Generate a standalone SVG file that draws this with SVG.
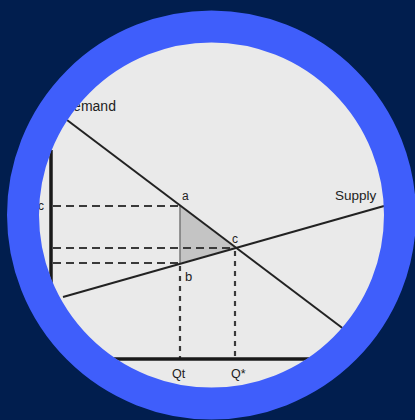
<svg xmlns="http://www.w3.org/2000/svg" width="415" height="420" viewBox="0 0 415 420">
<style>
.lbl{font-family:"Liberation Sans",Arial,sans-serif;fill:#222}
.ln{stroke:#222;stroke-width:2;fill:none}
.axis{stroke:#1a1a1a;stroke-width:3.5;fill:none}
.dh{stroke:#3a3a3a;stroke-width:2.2;stroke-dasharray:8 5;fill:none}
.dv{stroke:#3a3a3a;stroke-width:2.2;stroke-dasharray:5 5;fill:none}
</style>
<defs>
<clipPath id="inner"><circle cx="211.5" cy="215" r="173"/></clipPath>
</defs>
<rect width="415" height="420" fill="#011E4E"/>
<circle cx="211.5" cy="215" r="180" fill="#EAEAEA"/>
<g clip-path="url(#inner)">
<g id="area">
<polygon points="180,206 235,248 180,263" fill="#C4C4C4"/>
<line x1="180" y1="206" x2="180" y2="263" stroke="#777" stroke-width="1.5"/>
</g>
<g id="connectors">
<line class="dh" x1="53" y1="206" x2="180" y2="206"/>
<line class="dh" x1="53" y1="248" x2="235" y2="248"/>
<line class="dh" x1="53" y1="263" x2="180" y2="263"/>
<line class="dv" x1="180" y1="266" x2="180" y2="358"/>
<line class="dv" x1="235" y1="251" x2="235" y2="358"/>
<line class="ln" x1="67" y1="120" x2="345" y2="330"/>
<line class="ln" x1="63" y1="297" x2="384" y2="206"/>
</g>
<g id="axes">
<line class="axis" x1="51" y1="150" x2="51" y2="380"/>
<line class="axis" x1="49" y1="359" x2="390" y2="359"/>
</g>
<g id="labels">
<text class="lbl" x="63" y="111" font-size="14">Demand</text>
<text class="lbl" x="335" y="200" font-size="13.5">Supply</text>
<text class="lbl" x="182" y="200" font-size="12">a</text>
<text class="lbl" x="232" y="243" font-size="12">c</text>
<text class="lbl" x="185" y="281" font-size="13">b</text>
<text class="lbl" x="172" y="378" font-size="12.5">Qt</text>
<text class="lbl" x="231" y="378" font-size="12.5">Q*</text>
<text class="lbl" x="38" y="210" font-size="12">c</text>
</g>
</g>
<circle cx="211.5" cy="215" r="188.5" fill="none" stroke="#3F5EFB" stroke-width="32"/>
</svg>
